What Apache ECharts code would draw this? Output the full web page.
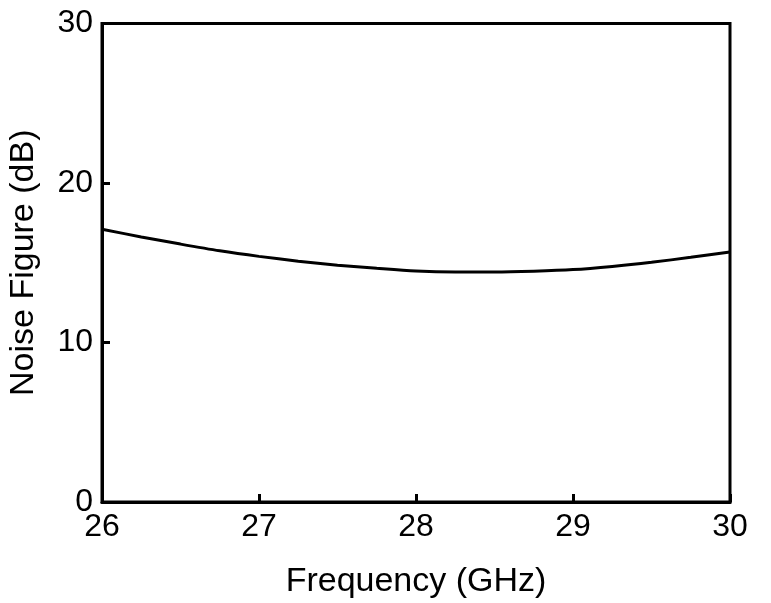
<!DOCTYPE html>
<html><head><meta charset="utf-8">
<script src="https://cdn.jsdelivr.net/npm/echarts@6/dist/echarts.min.js"></script>
<style>html,body{margin:0;padding:0;background:#fff}#c{width:771px;height:603px}</style>
</head><body><div id="c"></div>
<script>
const freqGHz = [26, 26.25, 26.5, 26.75, 27, 27.25, 27.5, 27.75, 28, 28.25, 28.5, 28.75, 29, 29.25, 29.5, 29.75, 30];
const noiseFigureDb = [17.1, 16.62, 16.17, 15.75, 15.4, 15.1, 14.85, 14.65, 14.48, 14.42, 14.42, 14.47, 14.57, 14.77, 15.03, 15.34, 15.68];
const xTicks = [26, 27, 28, 29, 30];
const yTicks = [0, 10, 20, 30];

const chart = echarts.init(document.getElementById('c'), null, {renderer: 'canvas'});
const font = 'Liberation Sans, Arial, sans-serif';
chart.setOption({
  animation: false,
  backgroundColor: '#fff',
  grid: {left: 102, right: 41, top: 23.5, bottom: 101, containLabel: false, outerBoundsMode: 'none',
         show: true, borderColor: '#000', borderWidth: 3, backgroundColor: 'transparent'},
  xAxis: {
    type: 'value', min: xTicks[0], max: xTicks[xTicks.length-1], interval: 1,
    name: 'Frequency (GHz)', nameLocation: 'middle', nameGap: 63,
    nameTextStyle: {fontFamily: font, fontSize: 34, color: '#000'},
    axisLine: {show: true, lineStyle: {color: '#000', width: 3}},
    axisTick: {show: true, inside: true, length: 8, lineStyle: {color: '#000', width: 3}},
    axisLabel: {fontFamily: font, fontSize: 32, color: '#000', margin: 9},
    splitLine: {show: false}
  },
  yAxis: {
    type: 'value', min: yTicks[0], max: yTicks[yTicks.length-1], interval: 10,
    name: 'Noise Figure (dB)', nameLocation: 'middle', nameGap: 61, nameRotate: 90,
    nameTextStyle: {fontFamily: font, fontSize: 34, color: '#000'},
    axisLine: {show: true, lineStyle: {color: '#000', width: 3}},
    axisTick: {show: true, inside: true, length: 8, lineStyle: {color: '#000', width: 3}},
    axisLabel: {fontFamily: font, fontSize: 32, color: '#000', margin: 9},
    splitLine: {show: false}
  },
  series: [{
    type: 'line', data: freqGHz.map((f, i) => [f, noiseFigureDb[i]]),
    smooth: 0.3, showSymbol: false, clip: true,
    lineStyle: {color: '#000', width: 3}
  }]
});
</script></body></html>
